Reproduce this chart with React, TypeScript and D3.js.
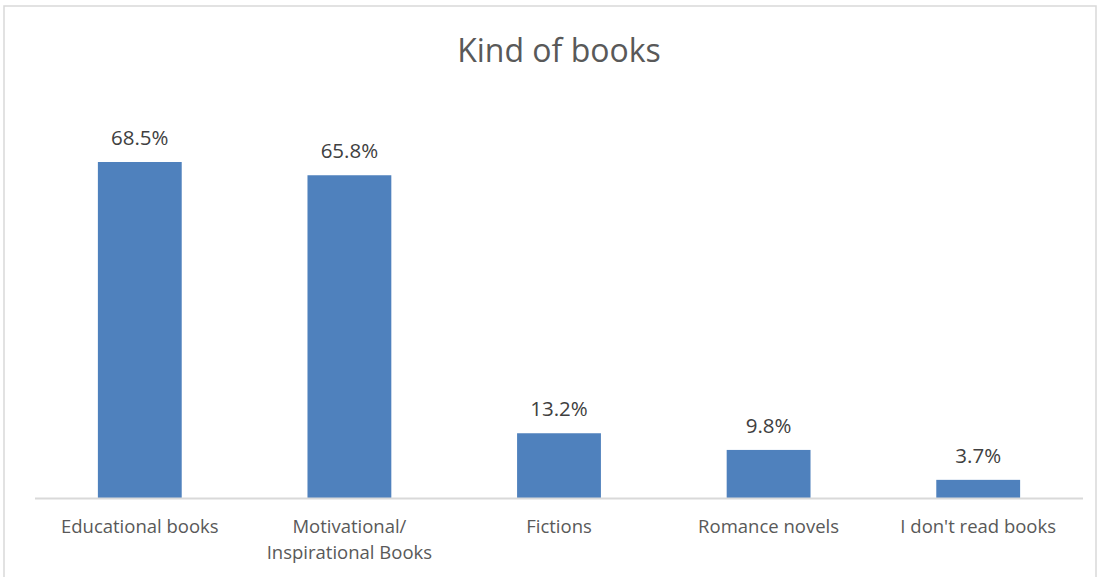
import React from 'react';
import * as d3 from 'd3';

const categories = ['Educational books', 'Motivational/\nInspirational Books', 'Fictions', 'Romance novels', "I don't read books"];
const values = [68.5, 65.8, 13.2, 9.8, 3.7];

const width = 1100;
const height = 577;
const marginLeft = 35;
const marginRight = 17;
const baseline = 498;

const App: React.FC = () => {
  const x = d3.scaleBand<string>()
    .domain(categories)
    .range([marginLeft, width - marginRight])
    .padding(0);

  const y = d3.scaleLinear()
    .domain([0, 70])
    .range([baseline, baseline - 70 * 4.905]);

  const barWidth = x.bandwidth() * 0.4;
  const font = "'Open Sans', 'Noto Sans', sans-serif";

  return (
    <svg width={width} height={height} style={{ position: 'absolute', left: 0, top: 0 }}>
      <rect x={0} y={0} width={width} height={height} fill="#fff" />
      <rect x={4} y={6} width={1092} height={580} fill="none" stroke="#d9d9d9" strokeWidth={1.5} />
      <text x={559} y={62} textAnchor="middle" fontFamily={font} fontSize={32} fill="#595959">
        Kind of books
      </text>

      {categories.map((c, i) => {
        const cx = (x(c) || 0) + x.bandwidth() / 2;
        const v = values[i];
        return (
          <g key={c}>
            <rect
              x={cx - barWidth / 2}
              y={y(v)}
              width={barWidth}
              height={baseline - y(v)}
              fill="#4f81bd"
            />
            <text x={cx} y={y(v) - 17} textAnchor="middle" fontFamily={font} fontSize={20.5} fill="#404040">
              {v.toFixed(1)}%
            </text>
            {c.split('\n').map((line, j) => (
              <text key={j} x={cx} y={533 + j * 26} textAnchor="middle" fontFamily={font} fontSize={18.5} fill="#595959">
                {line}
              </text>
            ))}
          </g>
        );
      })}

      <line x1={marginLeft} x2={width - marginRight} y1={baseline + 0.5} y2={baseline + 0.5} stroke="#d9d9d9" strokeWidth={2} />
    </svg>
  );
};

export default App;
